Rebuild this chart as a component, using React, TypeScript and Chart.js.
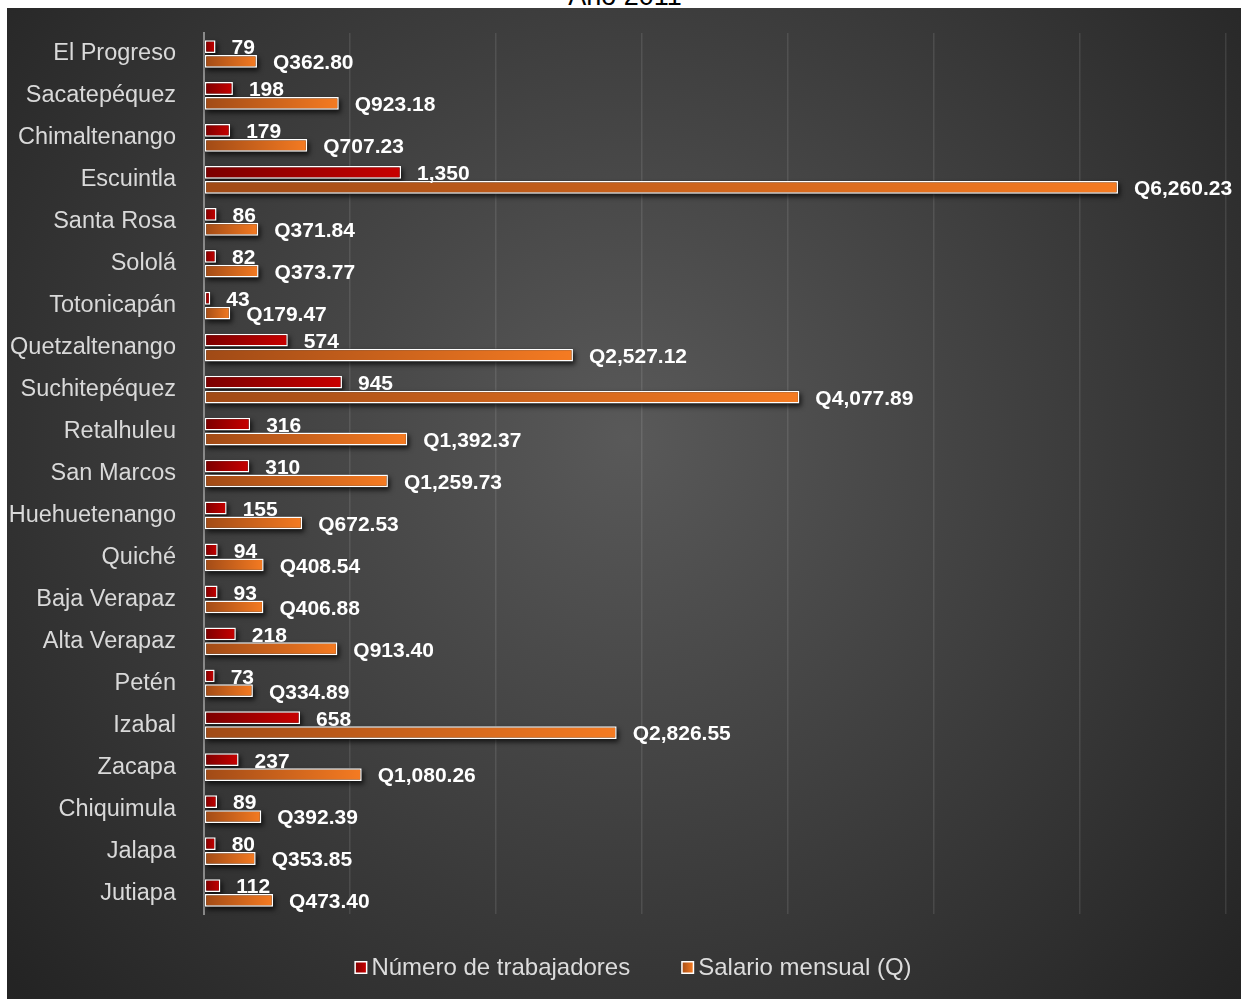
import React, { useEffect, useRef } from "react";
import { Chart, registerables } from "chart.js";

Chart.register(...registerables);

const TITLE = "Año 2011";
const CATEGORIES = [
  "El Progreso", "Sacatepéquez", "Chimaltenango", "Escuintla", "Santa Rosa", "Sololá",
  "Totonicapán", "Quetzaltenango", "Suchitepéquez", "Retalhuleu", "San Marcos",
  "Huehuetenango", "Quiché", "Baja Verapaz", "Alta Verapaz", "Petén", "Izabal",
  "Zacapa", "Chiquimula", "Jalapa", "Jutiapa",
];
const WORKERS = [79, 198, 179, 1350, 86, 82, 43, 574, 945, 316, 310, 155, 94, 93, 218, 73, 658, 237, 89, 80, 112];
const SALARY = [362.8, 923.18, 707.23, 6260.23, 371.84, 373.77, 179.47, 2527.12, 4077.89, 1392.37, 1259.73, 672.53, 408.54, 406.88, 913.4, 334.89, 2826.55, 1080.26, 392.39, 353.85, 473.4];
const SERIES_NAMES = ["Número de trabajadores", "Salario mensual (Q)"];
const X_MAX = 7000;
const X_STEP = 1000;

const GRADS = [
  ["#7a0000", "#c80000"],
  ["#a04a16", "#f57b22"],
];

const FONT = "Arial, 'Liberation Sans', sans-serif";

function fmtWorkers(v: number) {
  return v.toLocaleString("en-US");
}
function fmtSalary(v: number) {
  return "Q" + v.toLocaleString("en-US", { minimumFractionDigits: 2, maximumFractionDigits: 2 });
}

function barGradient(di: number) {
  return (ctx: any) => {
    const chart = ctx.chart;
    if (!chart.chartArea || ctx.type !== "data") return GRADS[di][1];
    const xs = chart.scales.x;
    const l = xs.getPixelForValue(0);
    let r = xs.getPixelForValue(ctx.raw);
    if (r - l < 2) r = l + 2;
    const g = chart.ctx.createLinearGradient(l, 0, r, 0);
    g.addColorStop(0, GRADS[di][0]);
    g.addColorStop(1, GRADS[di][1]);
    return g;
  };
}

const bgPlugin = {
  id: "bg",
  beforeDraw(chart: any) {
    const { ctx, width, height } = chart;
    ctx.save();
    const g = ctx.createRadialGradient(620, 430, 0, 620, 430, 820);
    g.addColorStop(0, "#595959");
    g.addColorStop(1, "#242424");
    ctx.fillStyle = g;
    ctx.fillRect(0, 0, width, height);
    ctx.restore();
  },
};

const shadowPlugin = {
  id: "barShadow",
  beforeDatasetsDraw(chart: any) {
    const { ctx } = chart;
    ctx.save();
    ctx.shadowColor = "rgba(0,0,0,0.7)";
    ctx.shadowBlur = 5;
    ctx.shadowOffsetX = 2;
    ctx.shadowOffsetY = 3;
    ctx.fillStyle = "#222";
    chart.data.datasets.forEach((_: any, di: number) => {
      const meta = chart.getDatasetMeta(di);
      meta.data.forEach((el: any) => {
        const h = el.height;
        const l = Math.min(el.x, el.base);
        const w = Math.abs(el.x - el.base);
        ctx.fillRect(l, el.y - h / 2, w, h);
      });
    });
    ctx.restore();
  },
};

const labelPlugin = {
  id: "valueLabels",
  afterDatasetsDraw(chart: any) {
    const { ctx } = chart;
    ctx.save();
    ctx.fillStyle = "#ffffff";
    ctx.font = `bold 21px ${FONT}`;
    ctx.textAlign = "left";
    ctx.textBaseline = "middle";
    chart.data.datasets.forEach((ds: any, di: number) => {
      const meta = chart.getDatasetMeta(di);
      meta.data.forEach((el: any, i: number) => {
        const v = ds.data[i];
        const txt = di === 0 ? fmtWorkers(v) : fmtSalary(v);
        ctx.fillText(txt, el.x + 16, el.y + 2);
      });
    });
    ctx.restore();
  },
};

const legendPlugin = {
  id: "customLegend",
  afterDraw(chart: any) {
    const { ctx, width } = chart;
    ctx.save();
    ctx.font = `24px ${FONT}`;
    ctx.textBaseline = "middle";
    const box = 12;
    const gap = 5;
    const spacing = 51;
    const widths = SERIES_NAMES.map((n) => ctx.measureText(n).width);
    const total = widths.reduce((a, w) => a + box + gap + w, 0) + spacing * (SERIES_NAMES.length - 1);
    let x = width / 2 + 9 - total / 2;
    const y = 960;
    SERIES_NAMES.forEach((name, i) => {
      const g = ctx.createLinearGradient(x, 0, x + box, 0);
      g.addColorStop(0, GRADS[i][0]);
      g.addColorStop(1, GRADS[i][1]);
      ctx.fillStyle = "#ffffff";
      ctx.fillRect(x, y - box / 2 - 1, box + 1, box + 1);
      ctx.fillStyle = g;
      ctx.fillRect(x + 1.5, y - box / 2 + 0.5, box - 2, box - 2);
      ctx.fillStyle = "#dcdcdc";
      ctx.fillText(name, x + box + gap, y);
      x += box + gap + widths[i] + spacing;
    });
    ctx.restore();
  },
};

export default function App() {
  const ref = useRef<HTMLCanvasElement | null>(null);

  useEffect(() => {
    if (!ref.current) return;
    const chart = new Chart(ref.current, {
      type: "bar",
      data: {
        labels: CATEGORIES,
        datasets: [
          {
            label: SERIES_NAMES[0],
            data: WORKERS,
            backgroundColor: barGradient(0),
            borderColor: "#ffffff",
            borderWidth: 1.5,
            borderSkipped: false,
          },
          {
            label: SERIES_NAMES[1],
            data: SALARY,
            backgroundColor: barGradient(1),
            borderColor: "#ffffff",
            borderWidth: 1.5,
            borderSkipped: false,
          },
        ],
      },
      options: {
        indexAxis: "y",
        responsive: false,
        animation: false,
        categoryPercentage: 0.71,
        barPercentage: 0.86,
        layout: { padding: { top: 25, right: 15, bottom: 85, left: 0 } },
        plugins: {
          legend: { display: false },
          title: { display: false },
          tooltip: { enabled: false },
        },
        scales: {
          x: {
            min: 0,
            max: X_MAX,
            ticks: { display: false, stepSize: X_STEP },
            grid: { color: "rgba(255,255,255,0.1)", lineWidth: 1.5, drawTicks: false },
            border: { display: false },
            afterFit(scale: any) {
              scale.height = 0;
              scale.paddingLeft = 0;
              scale.paddingRight = 0;
            },
          },
          y: {
            grid: { display: false, drawTicks: false },
            border: { display: true, color: "#8a8a8a", width: 2 },
            ticks: { color: "#d9d9d9", font: { family: FONT, size: 23.5 }, padding: 28 },
            afterFit(scale: any) {
              scale.width = 197;
              scale.paddingTop = 0;
              scale.paddingBottom = 0;
            },
          },
        },
      },
      plugins: [bgPlugin, shadowPlugin, labelPlugin, legendPlugin],
    });
    return () => chart.destroy();
  }, []);

  return (
    <div style={{ position: "fixed", left: 0, top: 0, width: 1241, height: 999, overflow: "hidden", background: "#fff" }}>
      <div
        style={{
          position: "absolute",
          left: 0,
          width: 1250,
          top: -17,
          textAlign: "center",
          fontFamily: FONT,
          fontSize: 27,
          lineHeight: "27px",
          color: "#000",
        }}
      >
        {TITLE}
      </div>
      <div style={{ position: "absolute", left: 7, top: 8, width: 1234, height: 991 }}>
        <canvas ref={ref} width={1234} height={991} style={{ display: "block", width: 1234, height: 991 }} />
      </div>
    </div>
  );
}
